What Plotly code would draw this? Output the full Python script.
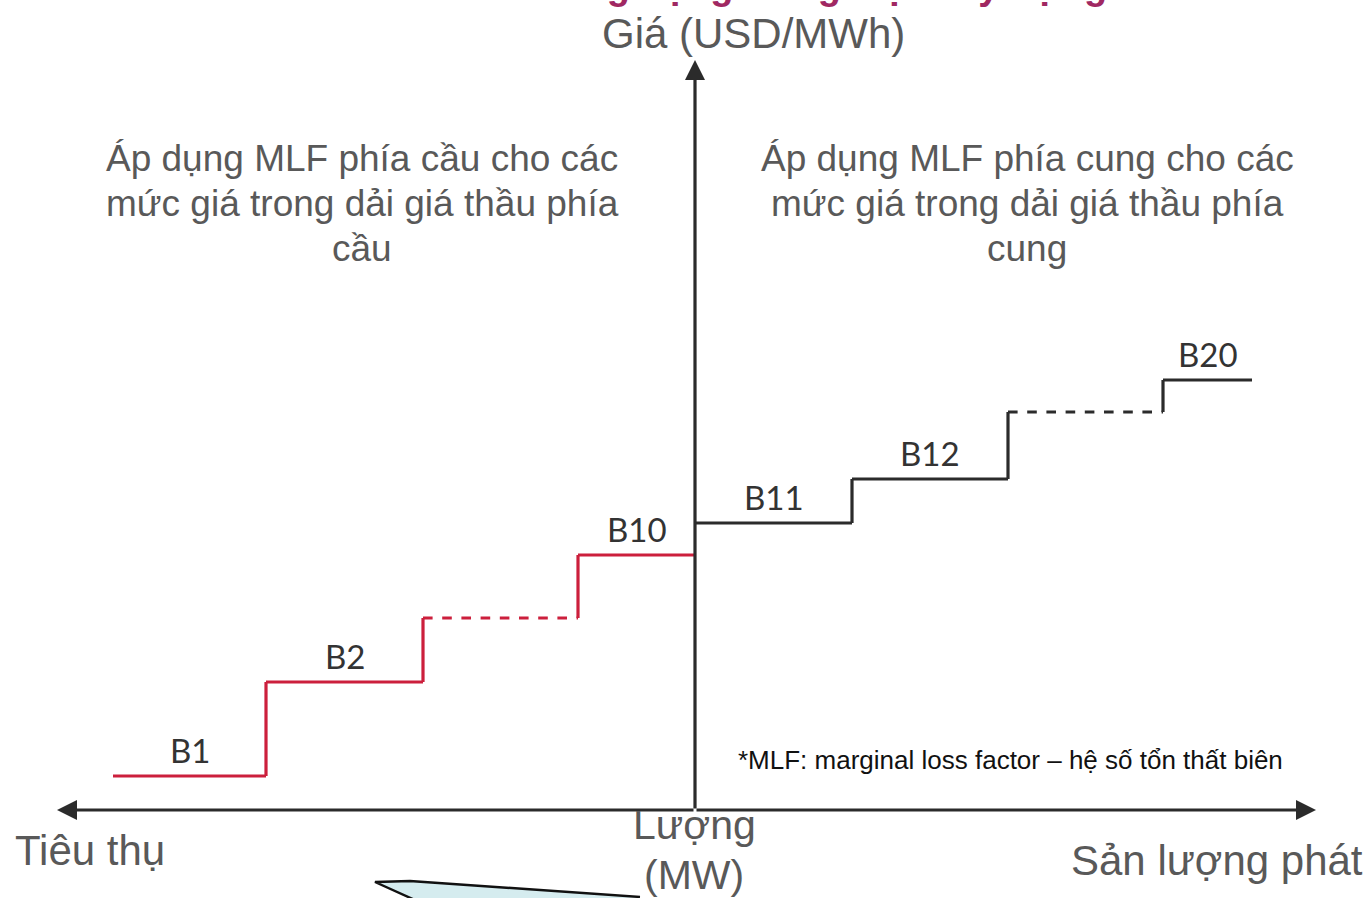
import plotly.graph_objects as go

# ---- data -------------------------------------------------------------
# Demand side (left of origin): quantity step edges and price of each band
demand_q_edges = [-582, -429, -272, -117, 0]
demand_price = [34, 128, 192, 255]
demand_labels = ["B1", "B2", "", "B10"]
demand_dashed = [False, False, True, False]

# Supply side (right of origin)
supply_q_edges = [0, 157, 313, 468, 557]
supply_price = [287, 331, 398, 430]
supply_labels = ["B11", "B12", "", "B20"]
supply_dashed = [False, False, True, False]

# Axis extents (arrow tips)
x_axis_left = -638
x_axis_right = 621
y_axis_top = 750

left_note = ["Áp dụng MLF phía cầu cho các",
             "mức giá trong dải giá thầu phía",
             "cầu"]
right_note = ["Áp dụng MLF phía cung cho các",
              "mức giá trong dải giá thầu phía",
              "cung"]

callout_x = [-320, -285, -55, -55, -269]
callout_y = [-72, -71, -87, -95, -95]

RED = "#cc1f3c"
BLACK = "#2b2b2b"
GREY = "#595959"
TEXT_FONT = "Liberation Sans, Arial, sans-serif"
STEP_FONT = "Lato, DejaVu Sans, sans-serif"

fig = go.Figure()


def add_steps(edges, prices, dashed, color):
    """Draw a stepped bid curve: horizontal bands joined by vertical risers."""
    n = len(prices)
    for i in range(n):
        fig.add_trace(go.Scatter(
            x=[edges[i], edges[i + 1]], y=[prices[i], prices[i]],
            mode="lines",
            line=dict(color=color, width=3.2,
                      dash="dash" if dashed[i] else "solid"),
            hoverinfo="skip", showlegend=False))
    for i in range(n - 1):
        fig.add_trace(go.Scatter(
            x=[edges[i + 1], edges[i + 1]], y=[prices[i], prices[i + 1]],
            mode="lines", line=dict(color=color, width=3.2),
            hoverinfo="skip", showlegend=False))


add_steps(demand_q_edges, demand_price, demand_dashed, RED)
add_steps(supply_q_edges, supply_price, supply_dashed, BLACK)

# light blue callout peeking in at the bottom
fig.add_trace(go.Scatter(
    x=callout_x, y=callout_y, mode="lines", fill="toself",
    fillcolor="#d5ecef", line=dict(width=0),
    hoverinfo="skip", showlegend=False))
fig.add_trace(go.Scatter(
    x=[callout_x[4], callout_x[0], callout_x[1], callout_x[2]],
    y=[callout_y[4], callout_y[0], callout_y[1], callout_y[2]],
    mode="lines", line=dict(color="#111111", width=2.4),
    hoverinfo="skip", showlegend=False))

annotations = []

# step labels
for edges, prices, labels in ((demand_q_edges, demand_price, demand_labels),
                              (supply_q_edges, supply_price, supply_labels)):
    for i, lab in enumerate(labels):
        if not lab:
            continue
        annotations.append(dict(
            x=(edges[i] + edges[i + 1]) / 2, y=prices[i], text=lab,
            showarrow=False, yanchor="middle", yshift=26,
            font=dict(family=STEP_FONT, size=33, color="#333333")))

# axes with arrowheads
axis_arrow = dict(showarrow=True, text="", arrowhead=2, arrowsize=1.25,
                  arrowwidth=3.2, arrowcolor="#2b2b2b",
                  axref="x", ayref="y", xref="x", yref="y")
annotations.append(dict(axis_arrow, x=x_axis_left, y=0, ax=0, ay=0))
annotations.append(dict(axis_arrow, x=x_axis_right, y=0, ax=0, ay=0))
annotations.append(dict(axis_arrow, x=0, y=y_axis_top, ax=0, ay=0))

# axis titles
annotations.append(dict(x=58, y=777, text="Giá (USD/MWh)", showarrow=False,
                        font=dict(family=TEXT_FONT, size=42, color=GREY)))
annotations.append(dict(x=-605, y=-40, text="Tiêu thụ", showarrow=False,
                        font=dict(family=TEXT_FONT, size=42, color=GREY)))
annotations.append(dict(x=-1, y=-15, text="Lượng", showarrow=False,
                        font=dict(family=TEXT_FONT, size=41, color=GREY)))
annotations.append(dict(x=-1, y=-65, text="(MW)", showarrow=False,
                        font=dict(family=TEXT_FONT, size=41, color=GREY)))
annotations.append(dict(x=522, y=-50, text="Sản lượng phát", showarrow=False,
                        font=dict(family=TEXT_FONT, size=42, color=GREY)))

# explanatory notes, one line each
for lines, cx in ((left_note, -333), (right_note, 332)):
    for k, line in enumerate(lines):
        annotations.append(dict(
            x=cx, y=652 - 45 * k, text=line, showarrow=False,
            font=dict(family=TEXT_FONT, size=37, color=GREY)))

annotations.append(dict(
    x=41, y=50, xanchor="left",
    text="*MLF: marginal loss factor – hệ số tổn thất biên",
    showarrow=False, font=dict(family=TEXT_FONT, size=26, color="#111111")))

# slide heading, sitting above the top edge of the page
annotations.append(dict(
    x=550 / 1371, y=1.0, xref="paper", yref="paper",
    xanchor="left", yanchor="bottom", yshift=-9,
    text="<b>Ứng dụng trong việc xây dựng</b>", showarrow=False,
    font=dict(family=TEXT_FONT, size=38, color="#a02862")))

fig.update_layout(
    width=1371, height=898, autosize=False,
    margin=dict(l=0, r=0, t=0, b=0),
    paper_bgcolor="white", plot_bgcolor="white",
    xaxis=dict(range=[-695, 676], visible=False, fixedrange=True),
    yaxis=dict(range=[-88, 810], visible=False, fixedrange=True),
    annotations=annotations,
    showlegend=False,
)

fig.write_html("out.html", config={"displayModeBar": False})
